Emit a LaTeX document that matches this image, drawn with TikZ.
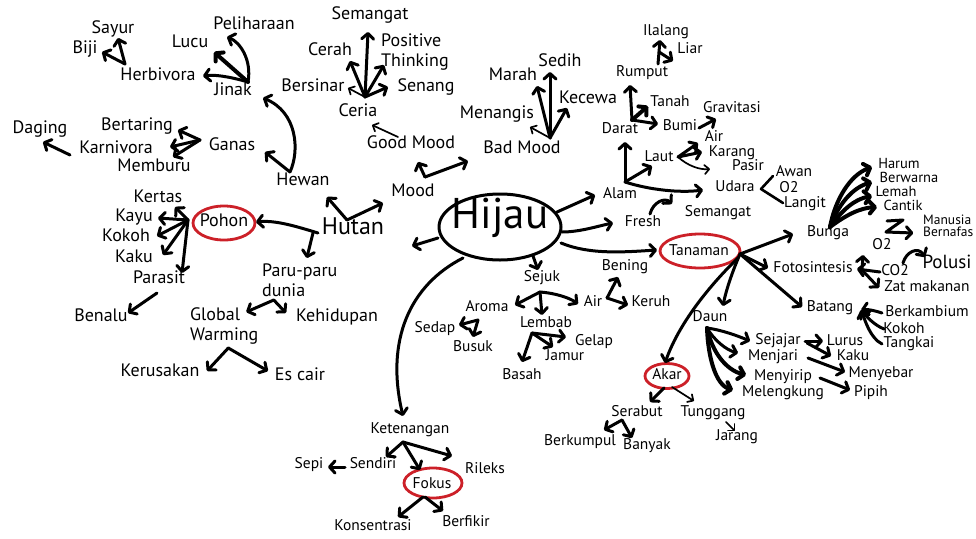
\documentclass[tikz,border=0pt]{standalone}
\usepackage{fontspec}
\setmainfont{PT Sans}
\usetikzlibrary{arrows.meta}
\definecolor{ringred}{RGB}{204,32,40}
\begin{document}
\begin{tikzpicture}[x=1pt,y=-1pt,
  lg/.style={inner sep=0pt,text height=0.7em,text depth=0pt,font=\fontsize{18}{20}\selectfont},
  md/.style={inner sep=0pt,text height=0.7em,text depth=0pt,font=\fontsize{15.5}{18}\selectfont},
  sm/.style={inner sep=0pt,text height=0.7em,text depth=0pt,font=\fontsize{14.5}{16}\selectfont},
  lgtwo/.style={inner sep=0pt,align=left,font=\fontsize{18}{20}\selectfont},
  arr/.style={line width=3pt,line cap=round,line join=round,-{Straight Barb[length=5.5pt,width=12pt,round]}},
  fat/.style={arr,line width=4pt},
  slim/.style={line width=1.7pt,line cap=round,line join=round,-{Straight Barb[length=4.5pt,width=9pt,round]}},
  plain/.style={line width=2.6pt,line cap=round,line join=round},
  ring/.style={draw=ringred,line width=2.8pt}]
\fill[white] (0,0) rectangle (976,538);
\useasboundingbox (0,0) rectangle (976,538);

% ---------- centre ----------
\node[inner sep=0pt,text height=0.7em,text depth=0pt,font=\fontsize{43}{45}\selectfont] (Hijau) at (500,225) {Hijau};
\draw[line width=3pt] (500,227) ellipse [x radius=61, y radius=33];
\node[inner sep=0pt,text height=0.7em,text depth=0pt,font=\fontsize{24}{26}\selectfont] (Hutan) at (353,231) {Hutan};

% ---------- animals ----------
\node[lg] (Sayur) at (113,30) {Sayur};
\node[lg] (Biji) at (85,50) {Biji};
\node[lg] (Herbivora) at (158,77) {Herbivora};
\node[lg] (Lucu) at (190,44) {Lucu};
\node[lg] (Peliharaan) at (254,26) {Peliharaan};
\node[lg] (Jinak) at (233,92) {Jinak};
\node[lg] (Bertaring) at (137,127) {Bertaring};
\node[lg] (Daging) at (40,130) {Daging};
\node[lg] (Karnivora) at (116,150) {Karnivora};
\node[lg] (Ganas) at (232,147) {Ganas};
\node[lg] (Memburu) at (154,168) {Memburu};
\node[lg] (Hewan) at (303,182) {Hewan};

% ---------- mood ----------
\node[lg] (Semangat) at (370,16) {Semangat};
\node[lgtwo,anchor=west] (Positive) at (381,52) {Positive\\Thinking};
\node[lg] (Cerah) at (330,52) {Cerah};
\node[lg] (Bersinar) at (313,88) {Bersinar};
\node[lg] (Senang) at (426,88) {Senang};
\node[lg] (Ceria) at (358,113) {Ceria};
\node[lg] (GoodMood) at (411,145) {Good Mood};
\node[lg] (Marah) at (513,77) {Marah};
\node[lg] (Sedih) at (560,63) {Sedih};
\node[lg] (Kecewa) at (588,100) {Kecewa};
\node[lg] (Menangis) at (497,115) {Menangis};
\node[lg] (BadMood) at (522,150) {Bad Mood};
\node[lg] (Mood) at (413,193) {Mood};

% ---------- trees ----------
\node[lg] (Pohon) at (224,223) {Pohon};
\node[lg] (Kertas) at (158,199) {Kertas};
\node[lg] (Kayu) at (134,218) {Kayu};
\node[lg] (Kokoh) at (126,238) {Kokoh};
\node[lg] (Kaku) at (134,259) {Kaku};
\node[lg] (Parasit) at (159,280) {Parasit};
\node[lg] (Benalu) at (101,318) {Benalu};
\node[lgtwo,anchor=west] (Paru) at (262,280) {Paru-paru\\dunia};
\node[lgtwo,anchor=west] (Global) at (190,326) {Global\\Warming};
\node[lg] (Kehidupan) at (337,318) {Kehidupan};
\node[lg] (Kerusakan) at (160,373) {Kerusakan};
\node[lg] (EsCair) at (300,377) {Es cair};

% ---------- nature ----------
\node[md] (Ilalang) at (666,32) {Ilalang};
\node[md] (Liar) at (690,50) {Liar};
\node[md] (Rumput) at (642,73) {Rumput};
\node[md] (Tanah) at (670,103) {Tanah};
\node[md] (Gravitasi) at (732,109) {Gravitasi};
\node[md] (Bumi) at (680,127) {Bumi};
\node[md] (Darat) at (620,130) {Darat};
\node[md] (AirLaut) at (714,138) {Air};
\node[md] (Karang) at (732,153) {Karang};
\node[md] (Laut) at (659,158) {Laut};
\node[md] (Pasir) at (748,167) {Pasir};
\node[md] (Alam) at (620,195) {Alam};
\node[md] (Udara) at (735,188) {Udara};
\node[md] (Awan) at (794,173) {Awan};
\node[md] (OUdara) at (789,189) {O2};
\node[md] (Langit) at (805,204) {Langit};
\node[md] (Fresh) at (643,223) {Fresh};
\node[md] (SemangatB) at (718,213) {Semangat};

% ---------- cool ----------
\node[md] (Sejuk) at (542,278) {Sejuk};
\node[md] (Aroma) at (487,308) {Aroma};
\node[md] (AirSejuk) at (593,303) {Air};
\node[md] (Lembab) at (546,324) {Lembab};
\node[md] (Sedap) at (435,329) {Sedap};
\node[md] (Busuk) at (473,348) {Busuk};
\node[md] (Gelap) at (594,342) {Gelap};
\node[md] (Jamur) at (565,357) {Jamur};
\node[md] (Basah) at (522,376) {Basah};
\node[md] (Bening) at (625,267) {Bening};
\node[md] (Keruh) at (651,303) {Keruh};

% ---------- plants ----------
\node[md] (Tanaman) at (699,252) {Tanaman};
\node[md] (Bunga) at (828,233) {Bunga};
\node[md] (Fotosintesis) at (813,269) {Fotosintesis};
\node[md] (Batang) at (830,308) {Batang};
\node[md] (Daun) at (710,318) {Daun};
\node[sm] (Harum) at (899,165) {Harum};
\node[sm] (Berwarna) at (909,179) {Berwarna};
\node[sm] (Lemah) at (896,193) {Lemah};
\node[sm] (Cantik) at (903,207) {Cantik};
\node[inner sep=0pt,align=left,anchor=west,font=\fontsize{13.5}{12}\selectfont] (Manusia) at (923,226) {Manusia\\Bernafas};
\node[md] (OFoto) at (882,246) {O2};
\node[inner sep=0pt,text height=0.7em,text depth=0pt,font=\fontsize{19}{21}\selectfont] (Polusi) at (947,265) {Polusi};
\node[md] (CO) at (895,272) {CO2};
\node[md] (Zat) at (927,288) {Zat makanan};
\node[md] (Berkambium) at (927,313) {Berkambium};
\node[md] (KokohB) at (904,330) {Kokoh};
\node[md] (Tangkai) at (909,344) {Tangkai};
\node[md] (Sejajar) at (778,341) {Sejajar};
\node[md] (Lurus) at (845,342) {Lurus};
\node[md] (Menjari) at (773,357) {Menjari};
\node[md] (KakuB) at (853,357) {Kaku};
\node[md] (Menyirip) at (783,377) {Menyirip};
\node[md] (Menyebar) at (881,374) {Menyebar};
\node[md] (Melengkung) at (783,393) {Melengkung};
\node[md] (Pipih) at (871,393) {Pipih};
\node[md] (Akar) at (667,376) {Akar};
\node[md] (Serabut) at (637,413) {Serabut};
\node[md] (Tunggang) at (713,413) {Tunggang};
\node[md] (Jarang) at (737,437) {Jarang};
\node[md] (Berkumpul) at (580,442) {Berkumpul};
\node[md] (Banyak) at (647,446) {Banyak};

% ---------- calm ----------
\node[md] (Ketenangan) at (410,430) {Ketenangan};
\node[md] (Sendiri) at (373,465) {Sendiri};
\node[md] (Sepi) at (309,465) {Sepi};
\node[md] (Rileks) at (485,470) {Rileks};
\node[md] (Fokus) at (432,485) {Fokus};
\node[md] (Konsentrasi) at (373,527) {Konsentrasi};
\node[md] (Berfikir) at (466,523) {Berfikir};

% ---------- red rings ----------
\draw[ring] (Pohon.center) ellipse [x radius=31, y radius=17];
\draw[ring] ([shift={(1,-1)}]Tanaman.center) ellipse [x radius=40, y radius=17];
\draw[ring] (Akar.center) ellipse [x radius=22, y radius=12.5];
\draw[ring] ([shift={(1,-2)}]Fokus.center) ellipse [x radius=29, y radius=15];

% ---------- connectors: animals ----------
\draw[arr] ([shift={(-33,-13)}]Herbivora.center) -- ([shift={(5,8)}]Sayur.center);
\draw[arr] ([shift={(-33,-13)}]Herbivora.center) -- ([shift={(17,2)}]Biji.center);
\draw[arr] ([shift={(15,-10)}]Jinak.center) .. controls (252,60) and (240,42) .. ([shift={(-27,11)}]Peliharaan.center);
\draw[fat] ([shift={(15,-10)}]Jinak.center) -- ([shift={(24,8)}]Lucu.center);
\draw[arr] ([shift={(15,-10)}]Jinak.center) .. controls (238,79) and (218,74) .. ([shift={(45,-1)}]Herbivora.center);
\draw[arr] ([shift={(-13,-10)}]Hewan.center) .. controls (300,150) and (297,112) .. ([shift={(30,6)}]Jinak.center);
\draw[arr] ([shift={(-13,-10)}]Hewan.center) -- ([shift={(33,5)}]Ganas.center);
\draw[arr] ([shift={(-32,-7)}]Ganas.center) -- ([shift={(41,3)}]Bertaring.center);
\draw[arr] ([shift={(-32,-7)}]Ganas.center) -- ([shift={(54,-3)}]Karnivora.center);
\draw[arr] ([shift={(-32,-7)}]Ganas.center) -- ([shift={(19,-11)}]Memburu.center);
\draw[arr] ([shift={(-46,5)}]Karnivora.center) -- ([shift={(3,12)}]Daging.center);

% ---------- connectors: mood ----------
\draw[arr] ([shift={(7,-16)}]Ceria.center) -- ([shift={(-2,16)}]Semangat.center);
\draw[arr] ([shift={(7,-16)}]Ceria.center) -- ([shift={(20,9)}]Cerah.center);
\draw[arr] ([shift={(7,-16)}]Ceria.center) -- ([shift={(-31,13)}]Positive.center);
\draw[arr] ([shift={(7,-16)}]Ceria.center) -- ([shift={(-38,-1)}]Senang.center);
\draw[slim] ([shift={(7,-16)}]Ceria.center) -- ([shift={(35,0)}]Bersinar.center);
\draw[slim] ([shift={(-13,-8)}]GoodMood.center) -- ([shift={(14,12)}]Ceria.center);
\draw[arr] ([shift={(12,-16)}]Mood.center) -- ([shift={(7,17)}]GoodMood.center);
\draw[arr] ([shift={(12,-16)}]Mood.center) -- ([shift={(-54,11)}]BadMood.center);
\draw[arr] ([shift={(28,-12)}]BadMood.center) -- ([shift={(-10,9)}]Sedih.center);
\draw[arr] ([shift={(28,-12)}]BadMood.center) -- ([shift={(24,9)}]Marah.center);
\draw[arr] ([shift={(28,-12)}]BadMood.center) -- ([shift={(-21,8)}]Kecewa.center);
\draw[slim] ([shift={(28,-12)}]BadMood.center) -- ([shift={(33,12)}]Menangis.center);

% ---------- connectors: forest ----------
\draw[arr] ([shift={(-6,-11)}]Hutan.center) -- ([shift={(24,15)}]Hewan.center);
\draw[arr] ([shift={(-6,-11)}]Hutan.center) -- ([shift={(-30,10)}]Mood.center);
\draw[arr] ([shift={(-62,13)}]Hijau.center) -- ([shift={(59,15)}]Hutan.center);
\draw[arr] ([shift={(-35,2)}]Hutan.center) .. controls (295,226) and (275,220) .. ([shift={(32,-1)}]Pohon.center);
\draw[arr] ([shift={(-40,2)}]Hutan.center) -- ([shift={(7,-22)}]Paru.center);
\draw[arr] ([shift={(-36,-3)}]Pohon.center) -- ([shift={(17,8)}]Kertas.center);
\draw[arr] ([shift={(-36,-3)}]Pohon.center) -- ([shift={(24,0)}]Kayu.center);
\draw[arr] ([shift={(-36,-3)}]Pohon.center) -- ([shift={(31,-2)}]Kokoh.center);
\draw[arr] ([shift={(-36,-3)}]Pohon.center) -- ([shift={(29,-4)}]Kaku.center);
\draw[arr] ([shift={(-36,-3)}]Pohon.center) -- ([shift={(23,-7)}]Parasit.center);
\draw[arr] ([shift={(-2,13)}]Parasit.center) -- ([shift={(27,-5)}]Benalu.center);
\draw[arr] ([shift={(-26,20)}]Paru.center) -- ([shift={(22,-14)}]Global.center);
\draw[arr] ([shift={(-26,20)}]Paru.center) -- ([shift={(-51,-5)}]Kehidupan.center);
\draw[arr] ([shift={(4,22)}]Global.center) -- ([shift={(47,-2)}]Kerusakan.center);
\draw[arr] ([shift={(4,22)}]Global.center) -- ([shift={(-32,-6)}]EsCair.center);

% ---------- connectors: nature ----------
\draw[arr] ([shift={(57,-13)}]Hijau.center) -- ([shift={(-25,0)}]Alam.center);
\draw[arr] ([shift={(62,7)}]Hijau.center) .. controls (580,232) and (598,226) .. ([shift={(-30,0)}]Fresh.center);
\draw[arr] ([shift={(7,-9)}]Fresh.center) .. controls (653,202) and (665,197) .. ([shift={(-46,-9)}]SemangatB.center);
\draw[arr] ([shift={(5,-13)}]Alam.center) -- ([shift={(5,12)}]Darat.center);
\draw[arr] ([shift={(5,-13)}]Alam.center) -- ([shift={(-7,8)}]Laut.center);
\draw[arr] ([shift={(5,-13)}]Alam.center) .. controls (650,190) and (680,193) .. ([shift={(-32,2)}]Udara.center);
\draw[arr] ([shift={(12,-10)}]Darat.center) -- ([shift={(-12,12)}]Rumput.center);
\draw[fat] ([shift={(12,-10)}]Darat.center) -- ([shift={(-22,3)}]Tanah.center);
\draw[arr] ([shift={(12,-10)}]Darat.center) -- ([shift={(-22,-3)}]Bumi.center);
\draw[arr] ([shift={(19,1)}]Bumi.center) -- ([shift={(-16,10)}]Gravitasi.center);
\draw[arr] ([shift={(19,-1)}]Laut.center) -- ([shift={(-16,5)}]AirLaut.center);
\draw[arr] ([shift={(19,-1)}]Laut.center) -- ([shift={(-30,-1)}]Karang.center);
\draw[slim] ([shift={(19,-1)}]Laut.center) .. controls (688,166) and (700,170) .. ([shift={(-38,2)}]Pasir.center);
\draw[arr] ([shift={(16,-9)}]Rumput.center) -- ([shift={(-6,8)}]Ilalang.center);
\draw[arr] ([shift={(17,-21)}]Rumput.center) -- ([shift={(-17,11)}]Liar.center);
\draw[plain] ([shift={(-21,3)}]Awan.center) -- ([shift={(26,1)}]Udara.center) -- ([shift={(-22,-1)}]Langit.center);

% ---------- connectors: cool ----------
\draw[arr] ([shift={(33,31)}]Hijau.center) -- ([shift={(-4,-8)}]Sejuk.center);
\draw[arr] ([shift={(-2,14)}]Sejuk.center) -- ([shift={(28,-3)}]Aroma.center);
\draw[arr] ([shift={(-2,14)}]Sejuk.center) -- ([shift={(-4,-9)}]Lembab.center);
\draw[arr] ([shift={(-2,14)}]Sejuk.center) .. controls (555,293) and (570,298) .. ([shift={(-15,1)}]AirSejuk.center);
\draw[arr] ([shift={(-9,12)}]Aroma.center) -- ([shift={(24,-4)}]Sedap.center);
\draw[arr] ([shift={(-9,12)}]Aroma.center) -- ([shift={(0,-11)}]Busuk.center);
\draw[arr] ([shift={(-14,9)}]Lembab.center) -- ([shift={(-28,-5)}]Gelap.center);
\draw[arr] ([shift={(-14,9)}]Lembab.center) -- ([shift={(-12,-10)}]Jamur.center);
\draw[arr] ([shift={(-14,9)}]Lembab.center) -- ([shift={(0,-14)}]Basah.center);
\draw[arr] ([shift={(14,-5)}]AirSejuk.center) -- ([shift={(-7,10)}]Bening.center);
\draw[arr] ([shift={(14,-5)}]AirSejuk.center) -- ([shift={(-23,2)}]Keruh.center);

% ---------- connectors: plants ----------
\draw[arr] ([shift={(61,18)}]Hijau.center) .. controls (590,255) and (625,252) .. ([shift={(-42,-2)}]Tanaman.center);
\draw[arr] ([shift={(41,2)}]Tanaman.center) -- ([shift={(-35,1)}]Bunga.center);
\draw[arr] ([shift={(41,2)}]Tanaman.center) -- ([shift={(-45,-1)}]Fotosintesis.center);
\draw[arr] ([shift={(41,2)}]Tanaman.center) -- ([shift={(-28,-1)}]Batang.center);
\draw[arr] ([shift={(41,2)}]Tanaman.center) .. controls (733,270) and (726,290) .. ([shift={(13,-12)}]Daun.center);
\draw[arr] ([shift={(39,6)}]Tanaman.center) .. controls (715,280) and (680,320) .. ([shift={(-2,-13)}]Akar.center);
\draw[fat] ([shift={(2,-6)}]Bunga.center) .. controls (835,200) and (850,175) .. ([shift={(-27,2)}]Harum.center);
\draw[fat] ([shift={(2,-6)}]Bunga.center) .. controls (838,205) and (852,188) .. ([shift={(-37,3)}]Berwarna.center);
\draw[fat] ([shift={(2,-6)}]Bunga.center) .. controls (842,210) and (855,199) .. ([shift={(-24,3)}]Lemah.center);
\draw[fat] ([shift={(2,-6)}]Bunga.center) .. controls (846,215) and (860,208) .. ([shift={(-26,0)}]Cantik.center);
\draw[arr] ([shift={(5,-25)}]OFoto.center) -- ++(16,-1) -- ++(-17,12) -- ([shift={(-35,7)}]Manusia.center);
\draw[arr] ([shift={(8,-9)}]CO.center) .. controls (906,252) and (918,246) .. ([shift={(-22,-8)}]Polusi.center);
\draw[arr] ([shift={(-15,0)}]CO.center) -- ([shift={(44,0)}]Fotosintesis.center);
\draw[arr] ([shift={(49,1)}]Fotosintesis.center) -- ([shift={(-19,9)}]OFoto.center);
\draw[arr] ([shift={(49,1)}]Fotosintesis.center) -- ([shift={(-48,0)}]Zat.center);
\draw[arr] ([shift={(-45,0)}]Berkambium.center) .. controls (876,311) and (868,309) .. ([shift={(31,2)}]Batang.center);
\draw[arr] ([shift={(-20,-1)}]KokohB.center) .. controls (874,325) and (866,316) .. ([shift={(31,2)}]Batang.center);
\draw[arr] ([shift={(-27,0)}]Tangkai.center) .. controls (870,338) and (865,320) .. ([shift={(31,2)}]Batang.center);
\draw[arr] ([shift={(-3,10)}]Daun.center) .. controls (722,330) and (738,336) .. ([shift={(-28,0)}]Sejajar.center);
\draw[arr] ([shift={(-3,10)}]Daun.center) .. controls (714,340) and (726,350) .. ([shift={(-35,-4)}]Menjari.center);
\draw[fat] ([shift={(-3,10)}]Daun.center) .. controls (712,352) and (726,370) .. ([shift={(-37,-2)}]Menyirip.center);
\draw[fat] ([shift={(-3,10)}]Daun.center) .. controls (708,358) and (716,385) .. ([shift={(-50,-3)}]Melengkung.center);
\draw[arr] ([shift={(27,0)}]Sejajar.center) -- ([shift={(-22,-1)}]Lurus.center);
\draw[arr] ([shift={(29,2)}]Sejajar.center) -- ([shift={(-22,-1)}]KakuB.center);
\draw[arr] ([shift={(35,1)}]Menjari.center) -- ([shift={(-36,-2)}]Menyebar.center);
\draw[arr] ([shift={(37,1)}]Menyirip.center) -- ([shift={(-21,-3)}]Pipih.center);
\draw[arr] ([shift={(-3,12)}]Akar.center) -- ([shift={(13,-11)}]Serabut.center);
\draw[slim] ([shift={(5,11)}]Akar.center) -- ([shift={(-19,-12)}]Tunggang.center);
\draw[arr] ([shift={(-15,7)}]Serabut.center) -- ([shift={(24,-12)}]Berkumpul.center);
\draw[arr] ([shift={(-15,7)}]Serabut.center) -- ([shift={(-15,-8)}]Banyak.center);
\draw[slim] ([shift={(13,9)}]Tunggang.center) -- ([shift={(-2,-6)}]Jarang.center);

% ---------- connectors: calm ----------
\draw[arr] ([shift={(-37,33)}]Hijau.center) .. controls (410,285) and (385,340) .. ([shift={(-7,-14)}]Ketenangan.center);
\draw[arr] ([shift={(-7,12)}]Ketenangan.center) -- ([shift={(13,-8)}]Sendiri.center);
\draw[arr] ([shift={(-7,12)}]Ketenangan.center) -- ([shift={(-33,-14)}]Rileks.center);
\draw[arr] ([shift={(-7,12)}]Ketenangan.center) -- ([shift={(-12,-15)}]Fokus.center);
\draw[arr] ([shift={(-28,2)}]Sendiri.center) -- ([shift={(19,2)}]Sepi.center);
\draw[arr] ([shift={(-9,12)}]Fokus.center) -- ([shift={(25,-10)}]Konsentrasi.center);
\draw[arr] ([shift={(-7,12)}]Fokus.center) -- ([shift={(-23,-12)}]Berfikir.center);
\end{tikzpicture}
\end{document}
